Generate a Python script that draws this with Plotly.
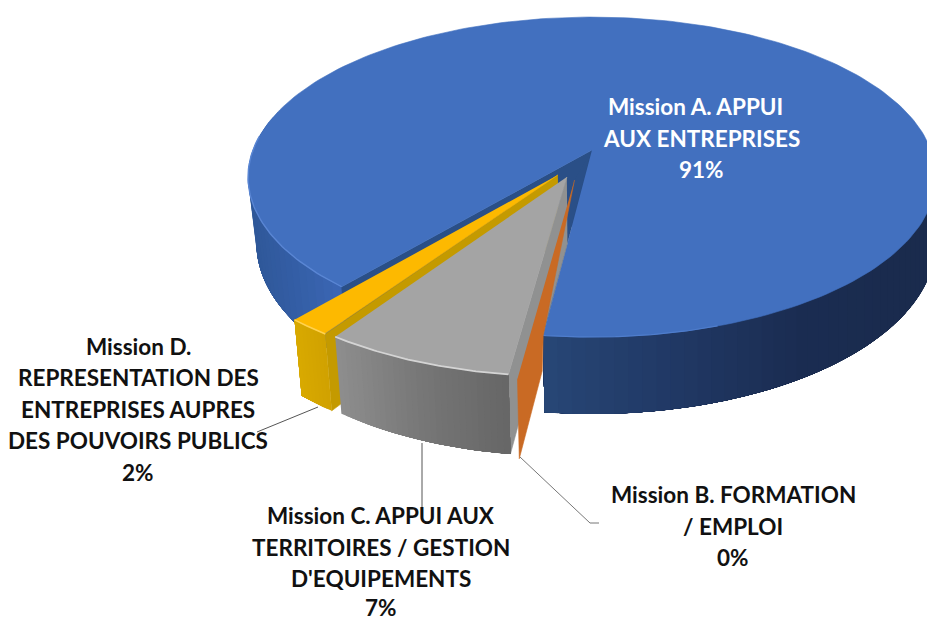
import numpy as np
import plotly.graph_objects as go

# ---- data ----
categories = ["Mission A. APPUI\u00a0\u00a0<br>AUX ENTREPRISES",
              "Mission B. FORMATION<br>/ EMPLOI",
              "Mission C. APPUI AUX<br>TERRITOIRES / GESTION<br>D'EQUIPEMENTS",
              "Mission D.<br>REPRESENTATION DES<br>ENTREPRISES AUPRES<br>DES POUVOIRS PUBLICS"]
values = [90.8, 0.1, 7.4, 1.7]

# ---- 3D projection of the pie ----
CX, CY, RX, RY, K, H, LEAN = 592.0, 150.0, 339.0, 155.4, 0.169, 64.0, 0.024
START = 40.0  # degrees clockwise from the front, where slice A begins
EXPLODE = [(0, 0), (-0.050, 0.187), (-0.0721, 0.1688), (-0.098, 0.1566)]
LABEL_POS = [(701, 138, "white"), (733, 526, "#111"), (381, 563, "#111"), (138, 409, "#111")]
LINE_GAP = 31.5
LOWEST_LINE = 607


def top(a, off):
    a = np.radians(a)
    U, V = off[0] - np.sin(a), off[1] + np.cos(a)
    den = 1 - K * V
    return CX + RX * U / den, CY + RY * V / den


def bottom(a, off):
    x, y = top(a, off)
    V = off[1] + np.cos(np.radians(a))
    den = 1 - K * V
    return x + max(CX - x, 0) * LEAN, y + H / den


def apex(off):
    den = 1 - K * off[1]
    return CX + RX * off[0] / den, CY + RY * off[1] / den


def apex_bottom(off):
    x, y = apex(off)
    den = 1 - K * off[1]
    return x + (CX - x) * LEAN, y + H / den


def hexrgb(h):
    return [int(h[i:i + 2], 16) for i in (1, 3, 5)]


def ramp(x, xs, cols):
    c = np.array([hexrgb(k) for k in cols], float)
    return "rgb(%d,%d,%d)" % tuple(np.interp(x, xs, c[:, i]) for i in range(3))


fig = go.Figure()


def poly(xs, ys, color, w=0.6):
    fig.add_trace(go.Scatter(x=list(xs), y=list(ys), mode="lines", fill="toself", fillcolor=color,
                             line=dict(color=color, width=w), hoverinfo="skip", showlegend=False))


def stroke(xs, ys, color, w):
    fig.add_trace(go.Scatter(x=list(xs), y=list(ys), mode="lines", line=dict(color=color, width=w),
                             hoverinfo="skip", showlegend=False))


def side(a0, a1, off, n, xs, cols):
    # overlapping strips painted in order, so no seams appear between them
    e = np.linspace(a0, a1, n + 1)
    for p, q in zip(e[:-1], e[1:]):
        aa = np.linspace(p, q, 4)
        aa2 = np.linspace(p, a1, 12)
        t = [top(a, off) for a in aa2]
        b = [bottom(a, off) for a in aa2[::-1]]
        pts = t + b
        mx = np.mean([top(a, off)[0] for a in aa])
        poly([k[0] for k in pts], [k[1] for k in pts], ramp(mx, xs, cols), 0)


def sector(a0, a1, off, color):
    aa = np.linspace(a0, a1, 240)
    pts = [apex(off)] + [top(a, off) for a in aa]
    poly([k[0] for k in pts], [k[1] for k in pts], color)


def rim(a0, a1, off, color, w=1.6):
    pts = [top(a, off) for a in np.linspace(a0, a1, 60)]
    stroke([k[0] for k in pts], [k[1] for k in pts], color, w)


ang = [START]
for v in values:
    ang.append(ang[-1] + v * 3.6)
a_A0, a_A1 = ang[0], ang[1]
a_B0, a_B1 = ang[1] - 360, ang[2] - 360
a_C0, a_C1 = ang[2] - 360, ang[3] - 360
a_D0, a_D1 = ang[3] - 360, ang[4] - 360

# slice A: outer wall (front part only), cut faces, top
BX = [250, 340, 542, 650, 800, 927]
BC = ["#2f5899", "#3b66b4", "#284777", "#223b68", "#1b2d52", "#1a2b4d"]
side(105, a_A0, EXPLODE[0], 30, BX, BC)
side(a_A1 - 360 - 100, a_A1 - 360, EXPLODE[0], 50, BX, BC)
p0, p1, p2, p3 = apex(EXPLODE[0]), top(a_A0, EXPLODE[0]), bottom(a_A0, EXPLODE[0]), apex_bottom(EXPLODE[0])
poly([p0[0], p1[0], p2[0], p3[0]], [p0[1], p1[1], p2[1], p3[1]], "#2a4f87")
corner = top(a_A1 - 360, EXPLODE[0])
ta = apex(EXPLODE[1])
poly([p0[0], corner[0], ta[0]], [p0[1], corner[1], ta[1]], "#2a4f87")
sector(a_A0, a_A1, EXPLODE[0], "#4270bf")
rim(a_A0, 95, EXPLODE[0], "#5a86d4", 1.4)
rim(a_A1 - 360 - 25, a_A1 - 360, EXPLODE[0], "#4f7dcc", 1.2)

# slice D
off = EXPLODE[3]
p0, p1, p2, p3 = apex(off), top(a_D0, off), bottom(a_D0, off), apex_bottom(off)
poly([p0[0], p1[0], p2[0], p3[0]], [p0[1], p1[1], p2[1], p3[1]], "#c49a00")
side(a_D0, a_D1, off, 8, [297, 335], ["#d8a900", "#cfa000"])
sector(a_D0, a_D1, off, "#fdb900")
rim(a_D0, a_D1, off, "#ffd24f", 1.6)

# slice C
off = EXPLODE[2]
p0, p1, p2, p3 = apex(off), top(a_C0, off), bottom(a_C0, off), apex_bottom(off)
poly([p0[0], p1[0], p2[0], p3[0]], [p0[1], p1[1], p2[1], p3[1]], "#909191")
side(a_C1, a_C0, off, 30, [340, 420, 512], ["#8d8d8d", "#777777", "#666666"])
sector(a_C0, a_C1, off, "#a4a4a4")
rim(a_C0, a_C1, off, "#d4d4d4", 1.8)

# slice B: only its wall is visible next to C, bounded by A's cut edge
off = EXPLODE[1]
ob, tip, ab = top(a_B1, off), bottom(a_B1, off), apex_bottom(off)
s = (corner[0] - 1 - ab[0]) / (tip[0] - ab[0])
cut = (corner[0] - 1, ab[1] + s * (tip[1] - ab[1]))
poly([ta[0], corner[0], cut[0], tip[0], ob[0]], [ta[1], corner[1], cut[1], tip[1], ob[1]], "#c96a24")

# leader lines
stroke([318, 257], [407, 432], "#555555", 1)
stroke([422, 422], [443, 520], "#555555", 1)
stroke([520, 590, 599], [457, 523, 523], "#777777", 1)

for cat, val, (lx, ly, col) in zip(categories, values, LABEL_POS):
    lines = cat.split("<br>") + [f"{round(val)}%"]
    first = ly - LINE_GAP * (len(lines) - 1) / 2
    for i, line in enumerate(lines):
        fig.add_annotation(x=lx, y=min(first + i * LINE_GAP, LOWEST_LINE), text=f"<b>{line}</b>", showarrow=False,
                           xanchor="center", yanchor="middle", align="center",
                           font=dict(family="Lato", size=22.5, color=col))

fig.update_layout(width=927, height=621, margin=dict(l=0, r=0, t=0, b=0), showlegend=False,
                  paper_bgcolor="white", plot_bgcolor="white",
                  xaxis=dict(range=[0, 927], visible=False, fixedrange=True),
                  yaxis=dict(range=[621, 0], visible=False, fixedrange=True))
fig.write_html("out.html", config={"displayModeBar": False},
               post_script="document.body.style.margin='0';document.documentElement.style.overflow='hidden';")
